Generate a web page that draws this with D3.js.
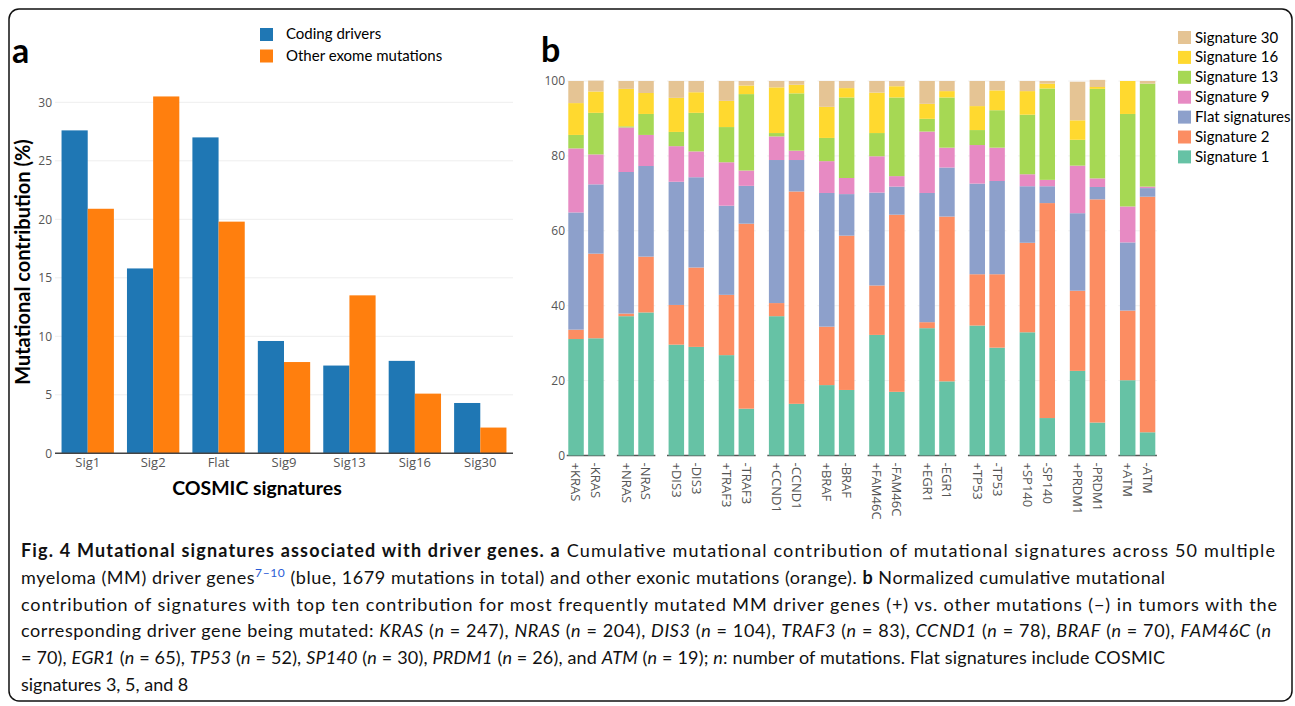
<!DOCTYPE html>
<html>
<head>
<meta charset="utf-8">
<script src="https://cdn.jsdelivr.net/npm/d3@7"></script>
<style>
  body { margin: 0; background: #fff; }
  svg { display: block; }
</style>
</head>
<body>
<div class="chart"></div>
<script>
// ---- panel a data ----
const sigNames = ['Sig1', 'Sig2', 'Flat', 'Sig9', 'Sig13', 'Sig16', 'Sig30'];
const codingDrivers = [27.6, 15.8, 27.0, 9.6, 7.5, 7.9, 4.3];
const otherExome = [20.9, 30.5, 19.8, 7.8, 13.5, 5.1, 2.2];
const groupNames = ['Coding drivers', 'Other exome mutations'];
const yTicksA = [0, 5, 10, 15, 20, 25, 30];

// ---- panel b data ----
const genes = ['KRAS', 'NRAS', 'DIS3', 'TRAF3', 'CCND1', 'BRAF', 'FAM46C', 'EGR1', 'TP53', 'SP140', 'PRDM1', 'ATM'];
const signs = ['+', '-'];
const layerNames = ['Signature 1', 'Signature 2', 'Flat signatures', 'Signature 9', 'Signature 13', 'Signature 16', 'Signature 30'];
// one value per bar, order: +KRAS, -KRAS, +NRAS, -NRAS, ...
const sig1  = [31.1, 31.3, 37.2, 38.2, 29.6, 29.0, 26.8, 12.5, 37.2, 13.8, 18.8, 17.5, 32.2, 17.0, 34.0, 19.8, 34.7, 28.8, 32.9, 10.0, 22.6, 8.8, 20.1, 6.2];
const sig2  = [2.5, 22.6, 0.7, 14.9, 10.6, 21.2, 16.1, 49.4, 3.5, 56.7, 15.6, 41.2, 13.2, 47.3, 1.6, 44.0, 13.7, 19.6, 23.9, 57.4, 21.4, 59.6, 18.6, 62.9];
const flat  = [31.3, 18.5, 37.8, 24.2, 32.9, 24.1, 23.8, 10.1, 38.2, 8.4, 35.7, 11.1, 24.8, 7.5, 34.5, 13.1, 24.2, 24.9, 15.1, 4.5, 20.7, 3.3, 18.2, 2.3];
const sig9  = [17.1, 8.0, 11.9, 8.3, 9.5, 6.9, 11.6, 4.1, 6.3, 2.5, 8.5, 4.3, 9.7, 2.8, 16.4, 5.3, 10.3, 8.9, 3.2, 1.7, 12.7, 2.3, 9.6, 0.4];
const sig13 = [3.6, 11.1, 0.3, 5.6, 3.8, 10.3, 9.4, 20.4, 0.9, 15.3, 6.2, 21.5, 6.2, 21.0, 3.4, 13.4, 4.0, 10.0, 15.9, 24.4, 6.9, 23.9, 24.7, 27.5];
const sig16 = [8.5, 5.7, 10.0, 5.6, 9.1, 5.5, 7.0, 2.3, 12.2, 2.3, 8.3, 2.5, 10.8, 3.0, 4.0, 1.7, 6.4, 5.3, 6.3, 1.3, 5.2, 0.5, 8.8, 0];
const sig30 = [5.9, 2.9, 2.1, 3.2, 4.5, 3.0, 5.3, 1.2, 1.7, 1.0, 6.9, 1.9, 3.1, 1.4, 6.1, 2.7, 6.7, 2.5, 2.7, 0.7, 10.3, 1.9, 0, 0.7];
const yTicksB = [0, 20, 40, 60, 80, 100];

const captionLines = [
  '**Fig. 4 Mutational signatures associated with driver genes. a** Cumulative mutational contribution of mutational signatures across 50 multiple',
  'myeloma (MM) driver genes^7–10^ (blue, 1679 mutations in total) and other exonic mutations (orange). **b** Normalized cumulative mutational',
  'contribution of signatures with top ten contribution for most frequently mutated MM driver genes (+) vs. other mutations (−) in tumors with the',
  'corresponding driver gene being mutated: _KRAS_ (_n_ = 247), _NRAS_ (_n_ = 204), _DIS3_ (_n_ = 104), _TRAF3_ (_n_ = 83), _CCND1_ (_n_ = 78), _BRAF_ (_n_ = 70), _FAM46C_ (_n_',
  '= 70), _EGR1_ (_n_ = 65), _TP53_ (_n_ = 52), _SP140_ (_n_ = 30), _PRDM1_ (_n_ = 26), and _ATM_ (_n_ = 19); _n_: number of mutations. Flat signatures include COSMIC',
  'signatures 3, 5, and 8'
];

const groupColors = ['#1f77b4', '#ff7f0e'];
const layerColors = ['#66c2a5', '#fc8d62', '#8da0cb', '#e78ac3', '#a6d854', '#ffd92f', '#e5c494'];
const tickFont = '"Open Sans", "DejaVu Sans", sans-serif';
const textFont = 'Lato, "Open Sans", sans-serif';

const W = 1295, H = 706;
let svg = d3.select('.chart').append('svg')
    .attr('width', W)
    .attr('height', H);

// frame
svg.append('rect')
    .attr('x', 9).attr('y', 9)
    .attr('width', 1283).attr('height', 692)
    .attr('rx', 10)
    .attr('fill', 'none')
    .attr('stroke', '#111')
    .attr('stroke-width', 1.5);

// ================= panel a =================
const a = svg.append('g');

const xA = d3.scaleBand()
    .domain(sigNames)
    .range([55, 513])
    .paddingInner(0.2)
    .paddingOuter(0.1);
const xGroup = d3.scaleBand()
    .domain(groupNames)
    .range([0, xA.bandwidth()]);
const yA = d3.scaleLinear()
    .domain([0, 30])
    .range([453.3, 102.3]);

a.append('g')
    .selectAll('line')
    .data(yTicksA.filter(d => d > 0))
    .join('line')
    .attr('x1', 55).attr('x2', 513)
    .attr('y1', d => yA(d)).attr('y2', d => yA(d))
    .attr('stroke', '#eeeeee')
    .attr('stroke-width', 1);

const rowsA = sigNames.map((s, i) => ({sig: s, values: [codingDrivers[i], otherExome[i]]}));

let grp = a.append('g')
    .selectAll('g')
    .data(rowsA)
    .join('g')
    .attr('transform', d => `translate(${xA(d.sig)},0)`);

grp.selectAll('rect')
    .data(d => d.values.map((v, j) => ({g: groupNames[j], v: v, c: groupColors[j]})))
    .join('rect')
    .attr('x', d => xGroup(d.g))
    .attr('width', xGroup.bandwidth())
    .attr('y', d => yA(d.v))
    .attr('height', d => yA(0) - yA(d.v))
    .attr('fill', d => d.c);

let yAxA = a.append('g')
    .attr('transform', 'translate(52,0)')
    .call(d3.axisLeft(yA).tickValues(yTicksA).tickSize(0).tickPadding(0));
yAxA.select('.domain').remove();
yAxA.selectAll('text')
    .attr('font-family', tickFont)
    .attr('font-size', 12)
    .attr('fill', '#555');

let xAxA = a.append('g')
    .attr('transform', `translate(0,${yA(0)})`)
    .call(d3.axisBottom(xA).tickSize(0).tickPadding(4));
xAxA.select('.domain').remove();
xAxA.selectAll('text')
    .attr('font-family', tickFont)
    .attr('font-size', 13)
    .attr('fill', '#555');

a.append('line')
    .attr('x1', 55).attr('x2', 513)
    .attr('y1', yA(0)).attr('y2', yA(0))
    .attr('stroke', '#444')
    .attr('stroke-width', 1.5);

a.append('text')
    .attr('transform', 'translate(30,262) rotate(-90)')
    .attr('text-anchor', 'middle')
    .attr('font-family', textFont)
    .attr('font-weight', 'bold')
    .attr('font-size', 20)
    .text('Mutational contribution (%)');

a.append('text')
    .attr('x', 257).attr('y', 495)
    .attr('text-anchor', 'middle')
    .attr('font-family', textFont)
    .attr('font-weight', 'bold')
    .attr('font-size', 19.5)
    .text('COSMIC signatures');

a.append('text')
    .attr('x', 12).attr('y', 63)
    .attr('font-family', textFont)
    .attr('font-weight', 'bold')
    .attr('font-size', 34)
    .text('a');

let legA = a.append('g')
    .selectAll('g')
    .data(groupNames)
    .join('g')
    .attr('transform', (d, i) => `translate(260,${28 + i * 21.5})`);
legA.append('rect')
    .attr('width', 13).attr('height', 13)
    .attr('fill', (d, i) => groupColors[i]);
legA.append('text')
    .attr('x', 26).attr('y', 11)
    .attr('font-family', textFont)
    .attr('font-size', 15)
    .text(d => d);

// ================= panel b =================
const b = svg.append('g');

const xGene = d3.scaleBand()
    .domain(genes)
    .range([566.7, 1156.9])
    .paddingInner(0.232)
    .paddingOuter(0);
const xSign = d3.scaleBand()
    .domain(signs)
    .range([0, xGene.bandwidth()])
    .paddingInner(0.22)
    .paddingOuter(0.08);
const yB = d3.scaleLinear()
    .domain([0, 100])
    .range([455.5, 81]);

const layerArrays = [sig1, sig2, flat, sig9, sig13, sig16, sig30];
const barsB = [];
genes.forEach((g, gi) => {
    signs.forEach((s, si) => {
        const k = gi * 2 + si;
        const row = {gene: g, sign: s};
        layerNames.forEach((ln, li) => { row[ln] = layerArrays[li][k]; });
        barsB.push(row);
    });
});

const stack = d3.stack().keys(layerNames);
const series = stack(barsB);

let facet = b.append('g')
    .selectAll('g')
    .data(genes)
    .join('g')
    .attr('transform', d => `translate(${xGene(d)},0)`);

facet.selectAll('line.grid')
    .data(yTicksB.filter(d => d > 0))
    .join('line')
    .attr('class', 'grid')
    .attr('x1', 0).attr('x2', xGene.bandwidth())
    .attr('y1', d => yB(d)).attr('y2', d => yB(d))
    .attr('stroke', '#f0f0f0');

b.append('g')
    .selectAll('g')
    .data(series)
    .join('g')
    .attr('fill', (d, i) => layerColors[i])
    .selectAll('rect')
    .data(d => d)
    .join('rect')
    .attr('x', d => xGene(d.data.gene) + xSign(d.data.sign))
    .attr('width', xSign.bandwidth())
    .attr('y', d => yB(d[1]))
    .attr('height', d => yB(d[0]) - yB(d[1]));

facet.append('line')
    .attr('x1', 0).attr('x2', xGene.bandwidth())
    .attr('y1', yB(0)).attr('y2', yB(0))
    .attr('stroke', '#555')
    .attr('stroke-width', 1.6);

facet.selectAll('text.lab')
    .data(g => signs.map(s => ({gene: g, sign: s})))
    .join('text')
    .attr('class', 'lab')
    .attr('transform', d => `translate(${xSign(d.sign) + xSign.bandwidth() / 2},${yB(0) + 7}) rotate(90)`)
    .attr('dy', '0.35em')
    .attr('font-family', tickFont)
    .attr('font-size', 13)
    .attr('fill', '#555')
    .text(d => d.sign + d.gene);

let yAxB = b.append('g')
    .attr('transform', 'translate(565,0)')
    .call(d3.axisLeft(yB).tickValues(yTicksB).tickSize(0).tickPadding(0));
yAxB.select('.domain').remove();
yAxB.selectAll('text')
    .attr('font-family', tickFont)
    .attr('font-size', 12)
    .attr('fill', '#555');

b.append('text')
    .attr('x', 541).attr('y', 62)
    .attr('font-family', textFont)
    .attr('font-weight', 'bold')
    .attr('font-size', 34)
    .text('b');

let legB = b.append('g')
    .selectAll('g')
    .data(layerNames.slice().reverse())
    .join('g')
    .attr('transform', (d, i) => `translate(1178,${31 + i * 19.9})`);
legB.append('rect')
    .attr('width', 13).attr('height', 13)
    .attr('fill', d => layerColors[layerNames.indexOf(d)]);
legB.append('text')
    .attr('x', 17).attr('y', 11.5)
    .attr('font-family', textFont)
    .attr('font-size', 15)
    .text(d => d);

// ================= caption =================
const capTargets = [1275, 1165, 1277, 1271, 1165, null];
const cap = svg.append('g');
captionLines.forEach((line, i) => {
    const t = cap.append('text')
        .attr('x', 21)
        .attr('y', 557 + i * 26.8)
        .attr('font-family', textFont)
        .attr('font-size', 18)
        .attr('fill', '#111');
    const parts = line.split(/(\*\*[^*]+\*\*|_[^_]+_|\^[^^]+\^)/).filter(p => p.length);
    let raise = 0;
    parts.forEach(p => {
        const ts = t.append('tspan');
        if (raise) { ts.attr('dy', raise); raise = 0; }
        if (p.startsWith('**')) {
            ts.attr('font-weight', 'bold').text(p.slice(2, -2));
        } else if (p.startsWith('_')) {
            ts.attr('font-style', 'italic').text(p.slice(1, -1));
        } else if (p.startsWith('^')) {
            ts.attr('font-size', 12).attr('dy', -7).attr('fill', '#2a5cd6').text(p.slice(1, -1));
            raise = 7;
        } else {
            ts.text(p);
        }
    });
    if (capTargets[i]) {
        t.attr('textLength', capTargets[i] - 21).attr('lengthAdjust', 'spacing');
    }
});
</script>
</body>
</html>
